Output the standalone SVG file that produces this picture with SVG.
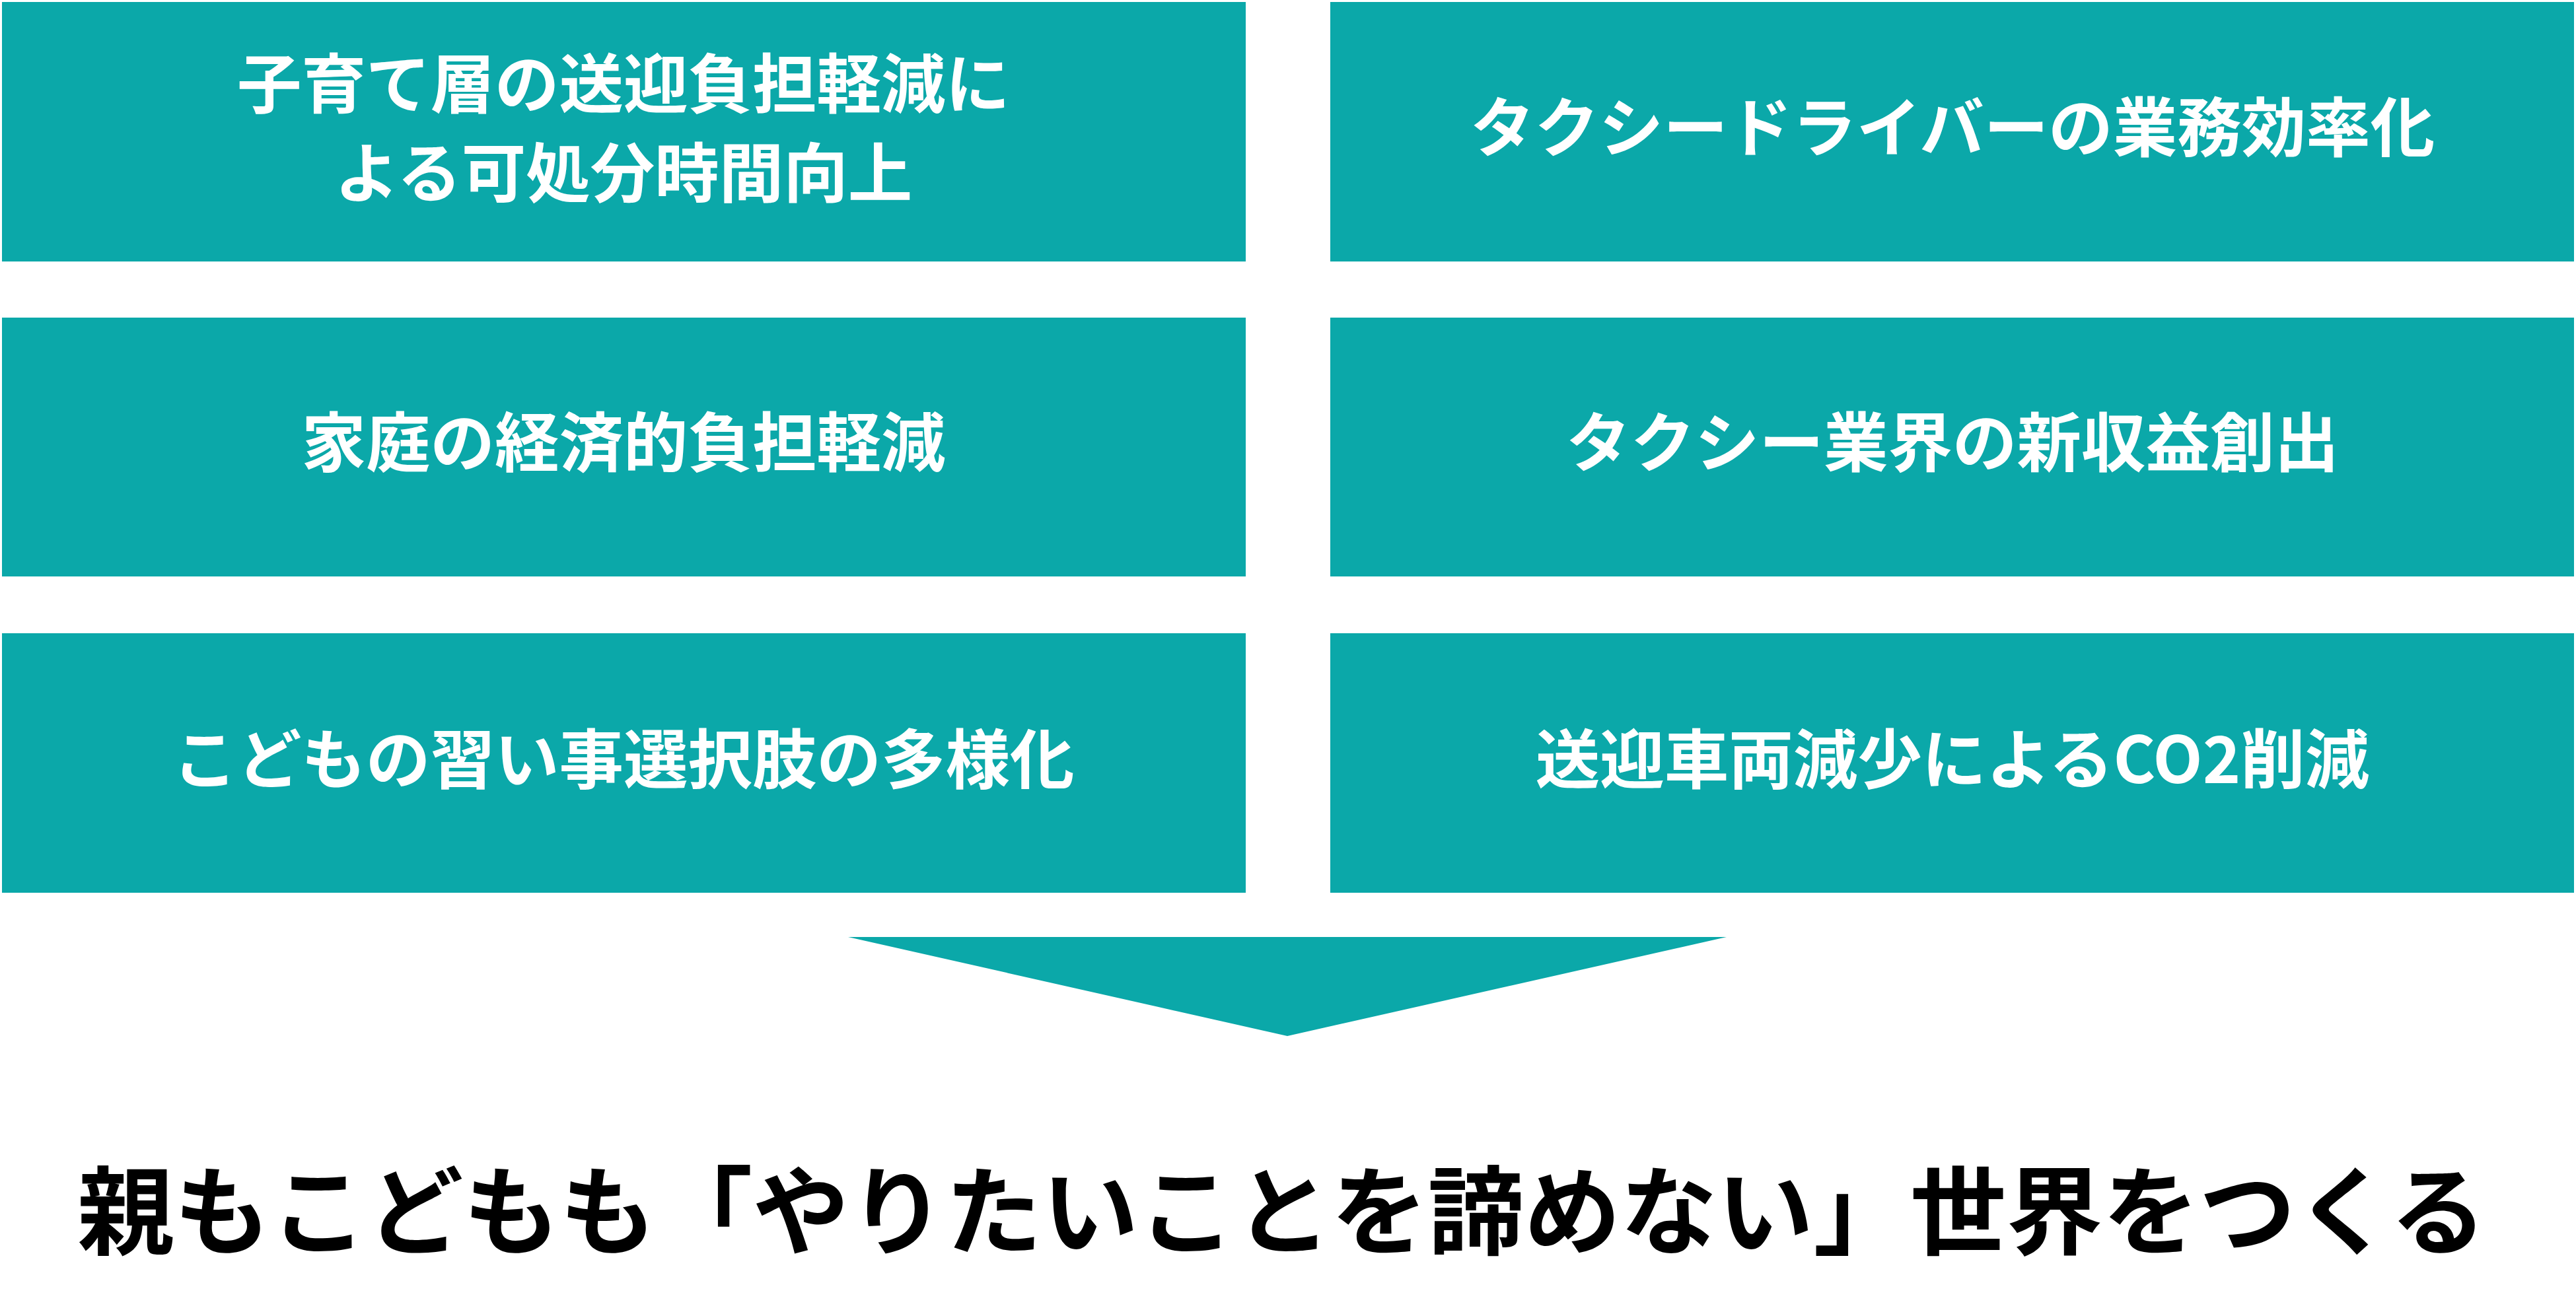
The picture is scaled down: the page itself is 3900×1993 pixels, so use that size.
<svg xmlns="http://www.w3.org/2000/svg" width="3900" height="1993" viewBox="0 0 3900 1993">
<style>
.box{fill:#0BA8A9}
.t{font-family:"Noto Sans CJK JP","Noto Sans CJK SC",sans-serif;font-weight:700;font-size:97.5px;fill:#ffffff;text-anchor:middle}
.main{font-family:"Noto Sans CJK JP","Noto Sans CJK SC",sans-serif;font-weight:700;font-size:146px;fill:#000000;text-anchor:middle}
</style>
<rect width="3900" height="1993" fill="#ffffff"/>
<g id="node-1">
<rect class="box" x="3" y="3" width="1883" height="393"/>
<text class="t" x="944" y="163">子育て層の送迎負担軽減に</text>
<text class="t" x="944" y="298">よる可処分時間向上</text>
</g>
<g id="node-2">
<rect class="box" x="2014" y="3" width="1883" height="393"/>
<text class="t" x="2956" y="229">タクシードライバーの業務効率化</text>
</g>
<g id="node-3">
<rect class="box" x="3" y="481" width="1883" height="392"/>
<text class="t" x="944" y="706">家庭の経済的負担軽減</text>
</g>
<g id="node-4">
<rect class="box" x="2014" y="481" width="1883" height="392"/>
<text class="t" x="2956" y="706">タクシー業界の新収益創出</text>
</g>
<g id="node-5">
<rect class="box" x="3" y="959" width="1883" height="393"/>
<text class="t" x="944" y="1186">こどもの習い事選択肢の多様化</text>
</g>
<g id="node-6">
<rect class="box" x="2014" y="959" width="1883" height="393"/>
<text class="t" x="2956" y="1186">送迎車両減少によるCO2削減</text>
</g>
<g id="connectors">
<polygon class="box" points="1284,1419 2614,1419 1949,1569"/>
</g>
<g id="node-7">
<text class="main" x="1941" y="1888">親もこどもも「やりたいことを諦めない」世界をつくる</text>
</g>
</svg>
